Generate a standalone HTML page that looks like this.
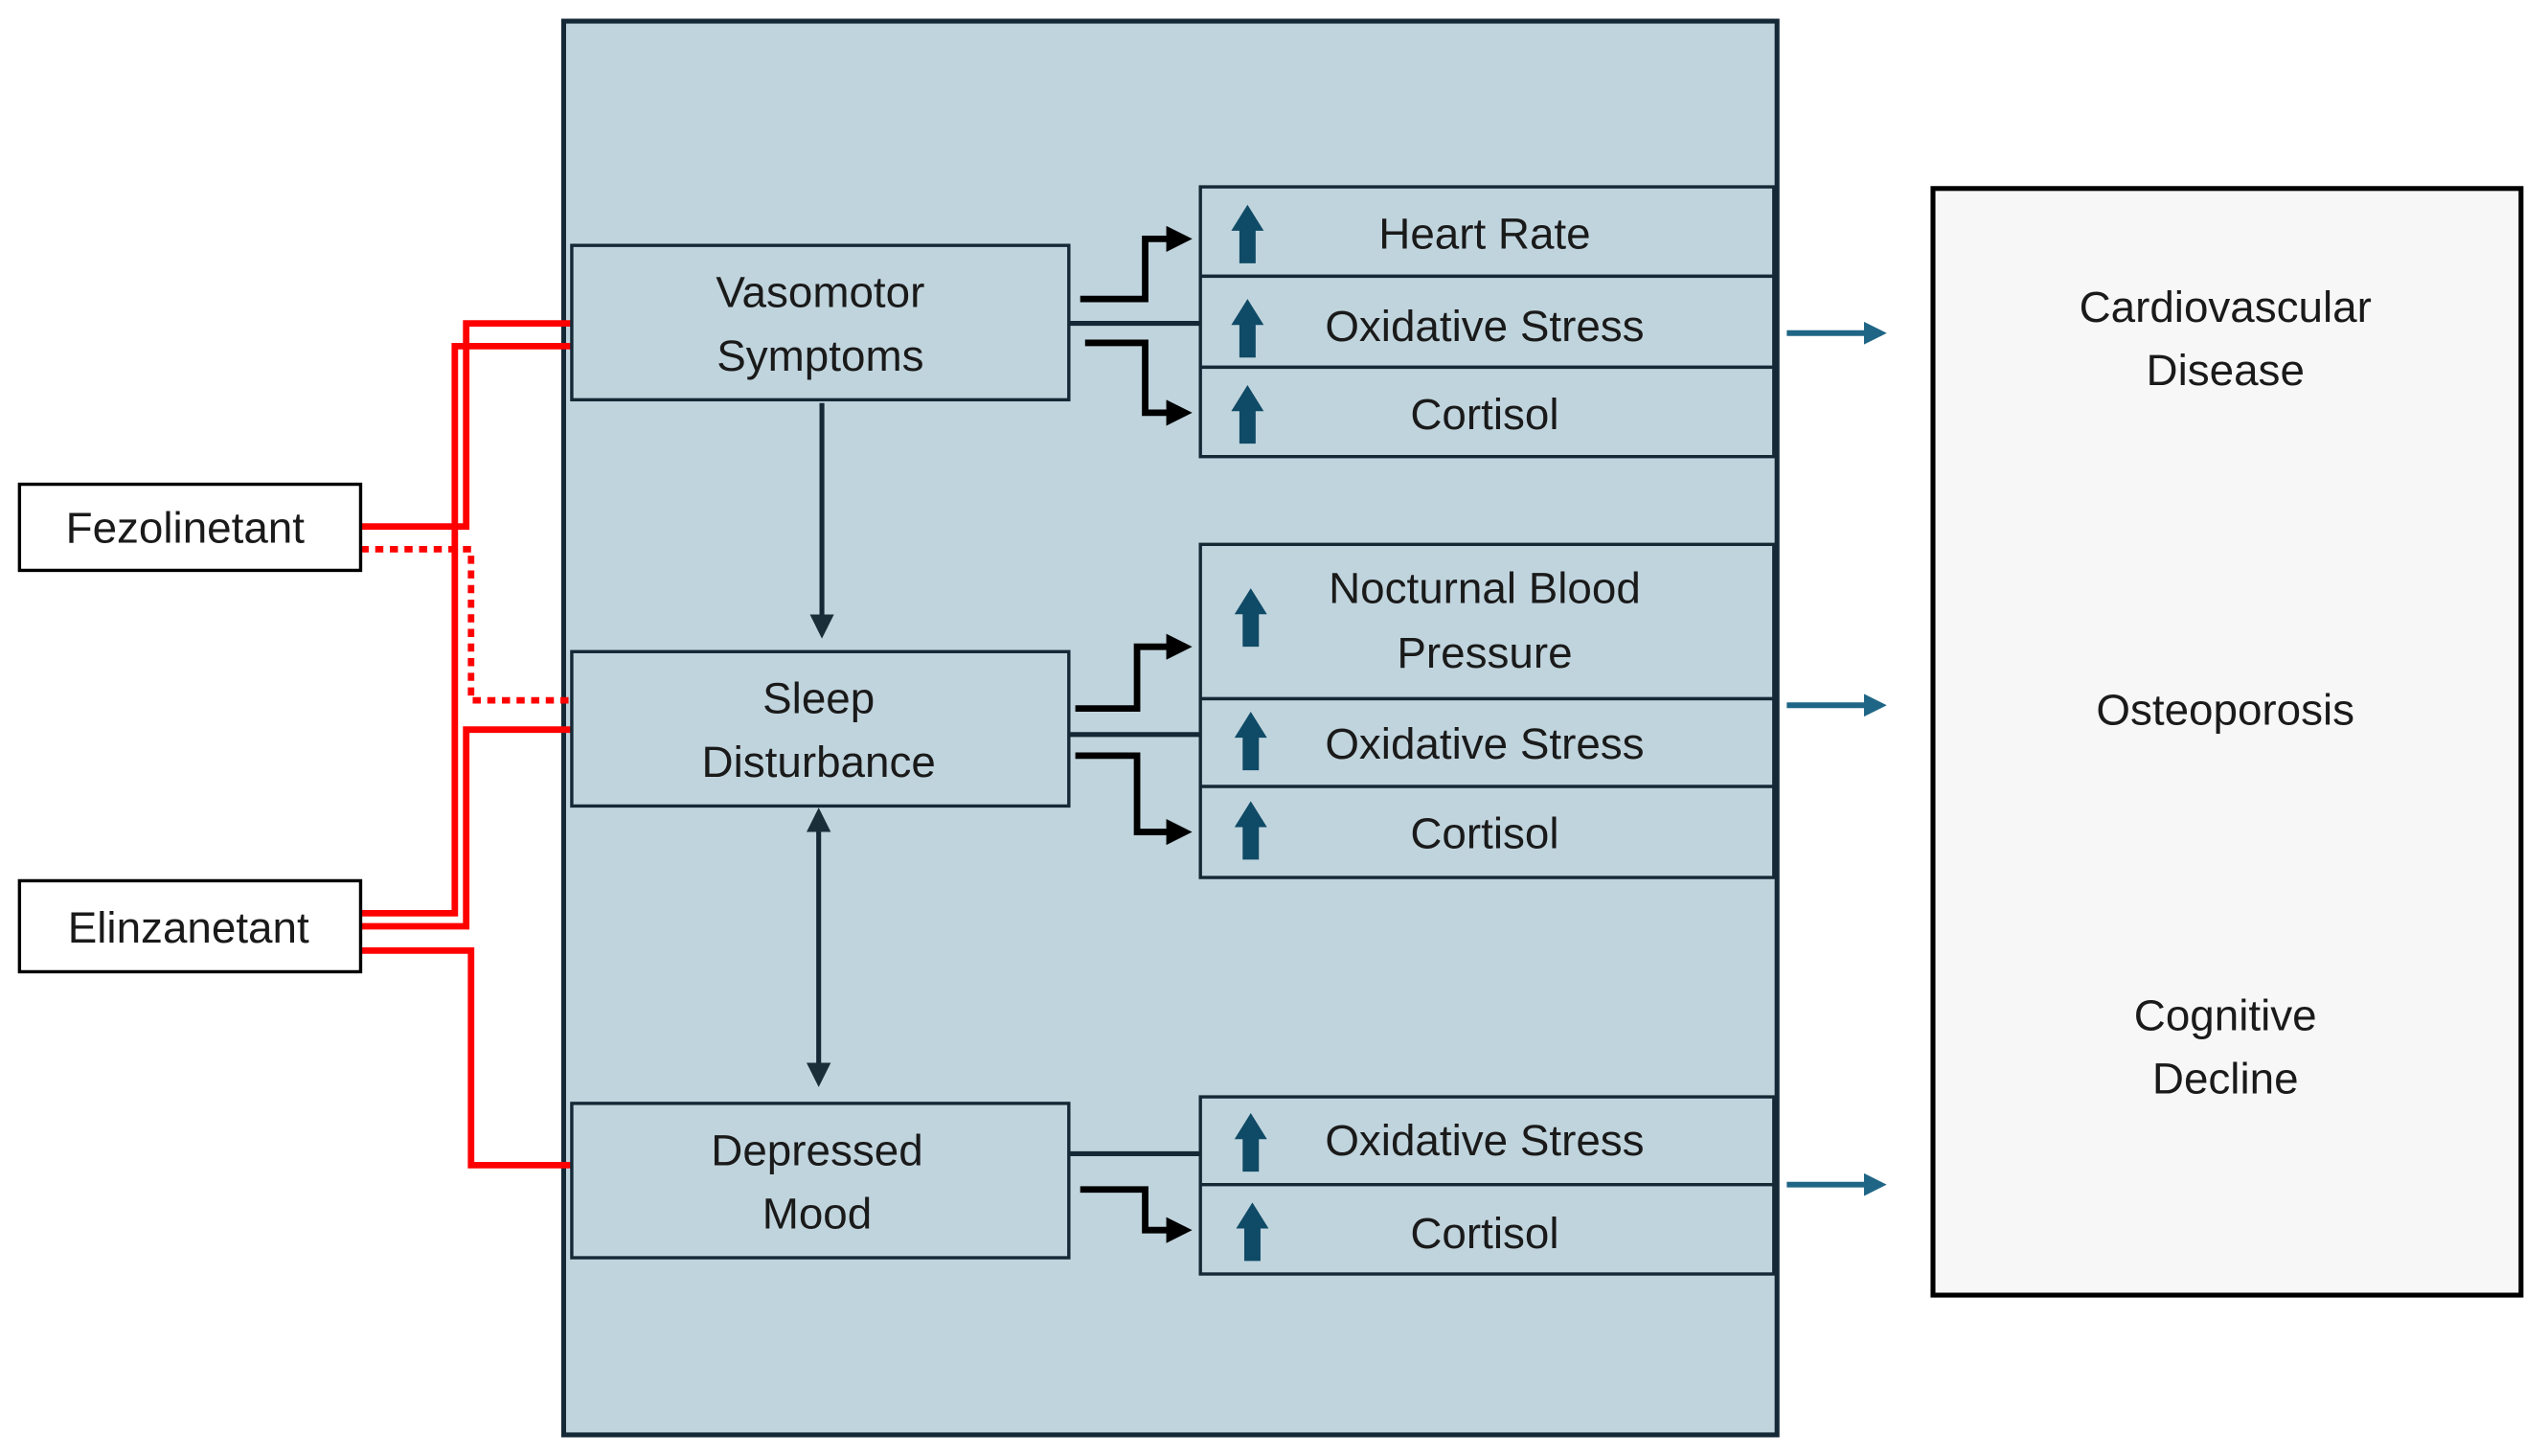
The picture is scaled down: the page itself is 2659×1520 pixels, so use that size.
<!DOCTYPE html>
<html><head><meta charset="utf-8"><style>
html,body{margin:0;padding:0;background:#fff;}
svg{display:block}
text{font-family:"Liberation Sans",sans-serif;fill:#1a1a1a;}
</style></head><body>
<svg width="2659" height="1520" viewBox="0 0 1568 896" preserveAspectRatio="none" xmlns="http://www.w3.org/2000/svg">
<defs>
<marker id="ab" markerWidth="4" markerHeight="4" refX="3" refY="2" orient="auto" markerUnits="strokeWidth"><path d="M0,0 L4,2 L0,4 z" fill="#000"/></marker>
<marker id="abs" markerWidth="5" markerHeight="5" refX="4" refY="2.5" orient="auto" markerUnits="strokeWidth"><path d="M0,0 L5,2.5 L0,5 z" fill="#1a2e3a"/></marker>
<marker id="abss" markerWidth="5" markerHeight="5" refX="1" refY="2.5" orient="auto-start-reverse" markerUnits="strokeWidth"><path d="M0,0 L5,2.5 L0,5 z" fill="#1a2e3a"/></marker>
<marker id="bl" markerWidth="4" markerHeight="4" refX="3" refY="2" orient="auto" markerUnits="strokeWidth"><path d="M0,0 L4,2 L0,4 z" fill="#1f6585"/></marker>
<g id="up"><path d="M-5,22 L-5,2 L-10,2 L0,-14 L10,2 L5,2 L5,22 Z" fill="#0f4a66"/></g>
</defs>

<rect x="347" y="13" width="747" height="870" fill="#c0d4dd" stroke="#142836" stroke-width="3"/>
<rect x="1190" y="116" width="362" height="681" fill="#f7f7f7" stroke="#000" stroke-width="3"/>

<!-- red lines -->
<g stroke="#ff0000" stroke-width="4" fill="none">
<polyline points="222,324 287,324 287,199 352,199"/>
<polyline points="222,562 280,562 280,213 352,213"/>
<polyline points="222,570 287,570 287,449 352,449"/>
<polyline points="222,585 290,585 290,717 352,717"/>
<polyline points="222,338 290,338 290,431 352,431" stroke-dasharray="5,4"/>
</g>

<rect x="12" y="298" width="210" height="53" fill="#fff" stroke="#000" stroke-width="2"/>
<text x="114" y="334" font-size="27" text-anchor="middle">Fezolinetant</text>
<rect x="12" y="542" width="210" height="56" fill="#fff" stroke="#000" stroke-width="2"/>
<text x="116" y="580" font-size="27" text-anchor="middle">Elinzanetant</text>

<!-- left boxes -->
<g fill="#c0d4dd" stroke="#142836" stroke-width="2">
<rect x="352" y="151" width="306" height="95"/>
<rect x="352" y="401" width="306" height="95"/>
<rect x="352" y="679" width="306" height="95"/>
<rect x="739" y="115" width="353" height="55"/>
<rect x="739" y="170" width="353" height="56"/>
<rect x="739" y="226" width="353" height="55"/>
<rect x="739" y="335" width="353" height="95"/>
<rect x="739" y="430" width="353" height="54"/>
<rect x="739" y="484" width="353" height="56"/>
<rect x="739" y="675" width="353" height="54"/>
<rect x="739" y="729" width="353" height="55"/>
</g>
<g font-size="27" text-anchor="middle">
<text x="505" y="189">Vasomotor</text><text x="505" y="228">Symptoms</text>
<text x="504" y="439">Sleep</text><text x="504" y="478">Disturbance</text>
<text x="503" y="717">Depressed</text><text x="503" y="756">Mood</text>
<text x="914" y="153">Heart Rate</text>
<text x="914" y="210">Oxidative Stress</text>
<text x="914" y="264">Cortisol</text>
<text x="914" y="371">Nocturnal Blood</text>
<text x="914" y="411">Pressure</text>
<text x="914" y="467">Oxidative Stress</text>
<text x="914" y="522">Cortisol</text>
<text x="914" y="711">Oxidative Stress</text>
<text x="914" y="768">Cortisol</text>
<text x="1370" y="198">Cardiovascular</text><text x="1370" y="237">Disease</text>
<text x="1370" y="446">Osteoporosis</text>
<text x="1370" y="634">Cognitive</text><text x="1370" y="673">Decline</text>
</g>
<use href="#up" x="768" y="140"/>
<use href="#up" x="768" y="198"/>
<use href="#up" x="768" y="251"/>
<use href="#up" x="770" y="376"/>
<use href="#up" x="770" y="452"/>
<use href="#up" x="770" y="507"/>
<use href="#up" x="770" y="699"/>
<use href="#up" x="771" y="754"/>

<!-- black connectors -->
<g stroke="#000" stroke-width="4" fill="none">
<polyline points="665,184 705,184 705,147 730,147" marker-end="url(#ab)"/>
<polyline points="668,211 705,211 705,254 730,254" marker-end="url(#ab)"/>
<polyline points="662,436 700,436 700,398 730,398" marker-end="url(#ab)"/>
<polyline points="662,465 700,465 700,512 730,512" marker-end="url(#ab)"/>
<polyline points="665,732 705,732 705,757 730,757" marker-end="url(#ab)"/>
</g>
<g stroke="#142836" stroke-width="3" fill="none">
<line x1="658" y1="199" x2="738" y2="199"/>
<line x1="658" y1="452" x2="738" y2="452"/>
<line x1="658" y1="710" x2="738" y2="710"/>
<line x1="506" y1="248" x2="506" y2="390" marker-end="url(#abs)"/>
<line x1="504" y1="509" x2="504" y2="666" marker-start="url(#abss)" marker-end="url(#abs)"/>
</g>
<g stroke="#1f6585" stroke-width="3.5">
<line x1="1100" y1="205" x2="1158" y2="205" marker-end="url(#bl)"/>
<line x1="1100" y1="434" x2="1158" y2="434" marker-end="url(#bl)"/>
<line x1="1100" y1="729" x2="1158" y2="729" marker-end="url(#bl)"/>
</g>
</svg>
</body></html>
